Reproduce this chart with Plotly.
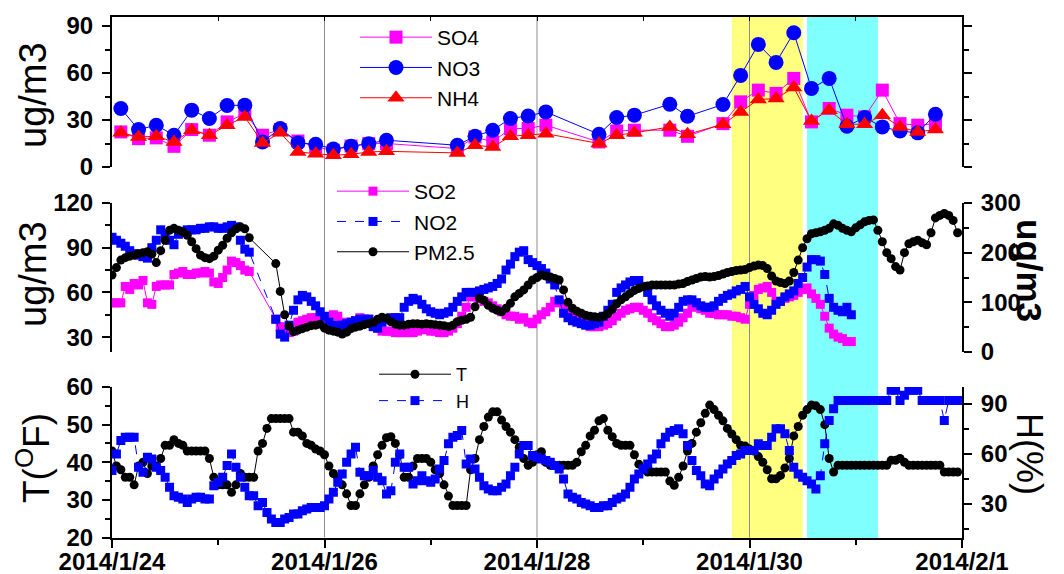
import plotly.graph_objects as go
import pandas as pd

START = pd.Timestamp("2014-01-24 00:00")

# ---------------- top panel: 4-hourly ions (hours after 2014/1/24 00:00) -------------
ion_hours = [2, 6, 10, 14, 18, 22, 26, 30, 34, 38, 42, 46, 50, 54, 58, 62,
             78, 82, 86, 90, 94, 98,
             110, 114, 118,
             126, 130,
             138, 142, 146, 150, 154, 158, 162, 166, 170, 174, 178, 182, 186]
SO4 = [22.4, 18.1, 18.6, 13.2, 23.9, 20.3, 28.8, 34.1, 20.3, 23.9, 16.6, 12.8, 10.7, 13.4, 14.9, 15.0,
       11.8, 19.2, 16.0, 24.6, 24.6, 26.7,
       16.0, 23.0, 23.5,
       23.5, 19.6,
       27.7, 41.6, 49.1, 47.0, 56.6, 28.8, 37.4, 33.1, 32.0, 49.1, 27.7, 26.7, 27.7]
NO3 = [37.4, 23.9, 26.7, 20.3, 36.3, 31.0, 39.3, 39.5, 16.0, 24.6, 15.4, 14.5, 11.5, 13.2, 14.9, 17.1,
       13.9, 19.6, 23.5, 31.0, 32.6, 35.2,
       20.9, 31.6, 33.1,
       40.1, 32.4,
       39.9, 58.5, 78.3, 66.8, 85.7, 50.2, 56.6, 26.0, 31.6, 25.6, 23.0, 21.8, 33.7]
NH4 = [21.8, 19.2, 19.6, 16.0, 23.5, 20.3, 26.7, 32.0, 15.4, 21.8, 9.6, 8.5, 7.5, 8.1, 9.6, 10.0,
       9.0, 13.9, 12.8, 19.6, 20.3, 21.3,
       15.0, 20.3, 21.8,
       25.6, 20.9,
       27.3, 35.2, 43.1, 43.7, 50.8, 29.4, 36.3, 27.3, 27.3, 33.1, 25.6, 22.4, 23.9]

# ---------------- middle panel: hourly gases and PM2.5 --------------------------------
N = None
SO2 = [53, 53, 53, 64, 62, 66, 65, 68, 53, 52, 64, 65,
       65, 65, 72, 73, 74, 72, 72, 73, 73, 74, 73, 67,
       66, 70, 75, 81, 80, 78, 75, 74, N, N, N, N,
       N, 42, 37, 33, 33, 34, 40, 41, 42, 43, 43, 43,
       42, 42, 45, 44, 40, 37, 40, 41, 43, 42, 42, 39,
       36, 34, 34, 34, 33, 33, 33, 33, 33, 34, 35, 35,
       34, 34, 33, 33, 34, 36, 39, 44, 50, 57, 57, 56,
       54, 53, 51, 49, 47, 45, 44, 44, 42, 43, 40, 39,
       42, 45, 47, 50, 54, 53, 52, 47, 43, 42, 40, 39,
       37, 37, 37, 38, 39, 41, 44, 46, 48, 49, 50, 50,
       48, 46, 43, 41, 39, 37, 37, 38, 40, 43, 46, 50,
       53, 49, 48, 46, 46, 45, 45, 45, 44, 44, 43, 42,
       52, 58, 62, 63, 64, 60, 54, 54, 56, 57, 58, 60,
       62, 63, 59, 56, 52, 44, 36, 32, 30, 29, 27, 27]
NO2 = [97, 95, 93, 91, 88, 86, 85, 84, 83, 90, 95, 102,
       98, 95, 92, 99, 101, 102, 102, 102, 103, 103, 104, 104,
       103, 103, 104, 105, 104, 95, 89, 87, N, N, N, N,
       N, 42, 32, 30, 38, 48, 55, 58, 57, 54, 51, 47,
       44, 40, 38, 37, 38, 39, 40, 41, 42, 42, 42, 37,
       36, 40, 42, 43, 43, 43, 50, 54, 56, 55, 52, 49,
       47, 46, 45, 46, 47, 50, 54, 57, 60, 60, 60, 61,
       62, 63, 64, 66, 69, 75, 79, 84, 87, 88, 82, 80,
       78, 76, 73, 69, 65, 55, 46, 43, 41, 40, 39, 38,
       38, 39, 40, 44, 48, 52, 60, 63, 65, 67, 68, 68,
       64, 60, 55, 51, 48, 46, 44, 46, 50, 54, 55, 55,
       53, 51, 50, 50, 51, 54, 56, 58, 59, 61, 62, 64,
       57, 52, 49, 46, 45, 48, 52, 54, 57, 59, 61, 66,
       70, 77, 82, 82, 81, 72, 56, 50, 48, 47, 50, 45]
PM25 = [155, 170, 185, 190, 193, 195, 198, 200, 202, 197, 180, 204,
        225, 245, 249, 245, 242, 235, 222, 208, 195, 190, 188, 193,
        205, 215, 229, 240, 248, 252, 248, 230, N, N, N, N,
        N, 178, 122, 75, 52, 41, 44, 47, 50, 53, 54, 56,
        48, 44, 42, 40, 36, 40, 47, 50, 52, 55, 57, 60,
        66, 70, 68, 61, 56, 54, 54, 56, 57, 57, 56, 57,
        56, 55, 54, 53, 51, 54, 61, 64, 66, 70, 91, 108,
        104, 94, 88, 84, 81, 88, 98, 111, 118, 125, 135, 145,
        150, 155, 153, 151, 148, 145, 125, 100, 88, 82, 78, 74,
        72, 71, 70, 72, 77, 86, 97, 105, 111, 118, 124, 128,
        131, 133, 135, 135, 135, 135, 135, 135, 137, 138, 142, 145,
        148, 151, 152, 151, 152, 154, 157, 160, 162, 164, 165, 166,
        170, 173, 175, 174, 168, 153, 143, 140, 138, 143, 160, 185,
        210, 228, 238, 240, 242, 245, 249, 258, 255, 249, 245, 242,
        250, 256, 262, 265, 266, 245, 222, 200, 188, 172, 165, 200,
        218, 222, 225, 220, 216, 240, 270, 275, 279, 275, 265, 240]

# ---------------- bottom panel: hourly temperature and humidity -----------------------
T = [43, 39, 38, 36, 36, 34, 39, 40, 37, 39, 39, 41,
     44.5, 44.5, 46, 45, 44.5, 43, 43, 43, 43, 43, 41, 36,
     34, 34, 34, 32, 34, 37, 36, 36, 36, 43, 45, 49,
     51.6, 51.6, 51.6, 51.6, 51.6, 48, 48, 47, 45, 44.5, 43.5, 43,
     42, 39, 37, 36, 34, 31.6, 28.5, 28.5, 31.6, 34, 36, 39,
     42, 44.5, 46.5, 46.8, 45, 42, 36, 36, 39, 41, 41, 41,
     40, 38, 37, 34, 31, 28.5, 28.5, 28.5, 28.5, 38, 41, 46,
     49.5, 52, 53.4, 53.4, 51.2, 49.5, 48, 46, 44, 41, 39.2, 40,
     42, 42.8, 40, 39.2, 39.2, 39.2, 39.2, 39.2, 39.2, 40, 42.8, 44.5,
     47, 48.5, 51, 51.6, 48.5, 46.8, 45, 44.5, 44.5, 44.5, 42, 39.5,
     38, 37.4, 37.4, 37.4, 37.4, 37.4, 35, 33.9, 36, 39, 43, 45,
     48, 50.5, 53, 55.2, 54, 52.5, 51, 49, 47.5, 46, 44.5, 44.3,
     43.5, 43, 41.5, 40, 38, 35.6, 35.6, 36.5, 38.5, 41, 47, 49.5,
     52.5, 54, 55.2, 55, 54, 50, 41, 37.4, 39.2, 39.2, 39.2, 39.2,
     39.2, 39.2, 39.2, 39.2, 39.2, 39.2, 39.2, 39.2, 40.5, 40.5, 41, 40,
     39.2, 39.2, 39.2, 39.2, 39.2, 39.2, 39.2, 39.2, 37.4, 37.4, 37.4, 37.4]
H = [50, 60, 68, 70, 70, 70, 52, 49, 58, 57, 52, 50,
     46, 40, 35, 34, 33, 31, 33, 34, 34, 33, 33, 41,
     43, 46, 53, 60, 52, 46, 40, 35, 35, 29, 31, 25,
     21, 19, 19, 21, 22, 24, 24, 26, 27, 28, 28, 28,
     29, 33, 37, 43, 48, 55, 60, 64, 49, 47, 47, 50,
     46, 44, 36, 38, 55, 60, 52, 52, 42, 44, 47, 44,
     43, 45, 51, 56, 66, 70, 71, 74, 54, 57, 51, 46,
     41, 39, 38, 38, 40, 42, 47, 52, 60, 65, 65, 59,
     58, 57, 56, 55, 53, 51, 45, 36, 34, 33, 31, 30,
     29, 28, 28, 29, 29, 31, 33, 34, 36, 40, 45, 48,
     51, 54, 57, 60, 66, 70, 73, 74, 75, 72, 65, 56,
     50, 47, 42, 41, 45, 48, 51, 54, 56, 59, 60, 62,
     62, 62, 66, 65, 65, 70, 75, 75, 72, 62, 52, 48,
     46, 44, 42, 39, 47, 66, 80, 87, 92, 92, 92, 92,
     92, 92, 92, 92, 92, 92, 92, 92, 98, 98, 92, 95,
     98, 98, 98, 92, 92, 92, 92, 92, 80, 92, 92, 92]

# event windows and reference lines
YELLOW = ("2014-01-29 20:00", "2014-01-30 12:00")
CYAN = ("2014-01-30 13:00", "2014-01-31 05:00")
VLINES = ["2014-01-26", "2014-01-28", "2014-01-30"]

ion_time = [START + pd.Timedelta(hours=h) for h in ion_hours]
gas_time = pd.date_range(START, periods=len(SO2), freq="h")
pm_time = pd.date_range(START, periods=len(PM25), freq="h")
met_time = pd.date_range(START, periods=len(T), freq="h")

FONT = "Liberation Sans, Arial, sans-serif"
W, Hh = 1064, 574

def px_x(p):
    return p / W

def px_y(p):
    return 1 - p / Hh

fig = go.Figure()

# top panel
fig.add_trace(go.Scatter(x=ion_time, y=SO4, name="SO4", mode="lines+markers", xaxis="x", yaxis="y",
                         line=dict(color="#FF00FF", width=1),
                         marker=dict(symbol="square", size=13, color="#FF00FF"), legend="legend"))
fig.add_trace(go.Scatter(x=ion_time, y=NO3, name="NO3", mode="lines+markers", xaxis="x", yaxis="y",
                         line=dict(color="#0000FF", width=1),
                         marker=dict(symbol="circle", size=15, color="#0000FF"), legend="legend"))
fig.add_trace(go.Scatter(x=ion_time, y=NH4, name="NH4", mode="lines+markers", xaxis="x", yaxis="y",
                         line=dict(color="#FF0000", width=1),
                         marker=dict(symbol="triangle-up", size=15, color="#FF0000"), legend="legend"))

# middle panel
fig.add_trace(go.Scatter(x=gas_time, y=SO2, name="SO2", mode="lines+markers", xaxis="x2", yaxis="y2",
                         connectgaps=True, line=dict(color="#FF00FF", width=1),
                         marker=dict(symbol="square", size=9, color="#FF00FF"), legend="legend2"))
fig.add_trace(go.Scatter(x=gas_time, y=NO2, name="NO2", mode="lines+markers", xaxis="x2", yaxis="y2",
                         connectgaps=True, line=dict(color="#0000FF", width=1, dash="dash"),
                         marker=dict(symbol="square", size=9, color="#0000FF"), legend="legend2"))
fig.add_trace(go.Scatter(x=pm_time, y=PM25, name="PM2.5", mode="lines+markers", xaxis="x2", yaxis="y3",
                         connectgaps=True, line=dict(color="#000000", width=1),
                         marker=dict(symbol="circle", size=9, color="#000000"), legend="legend2"))

# bottom panel
fig.add_trace(go.Scatter(x=met_time, y=T, name="T", mode="lines+markers", xaxis="x3", yaxis="y4",
                         line=dict(color="#000000", width=1),
                         marker=dict(symbol="circle", size=9, color="#000000"), legend="legend3"))
fig.add_trace(go.Scatter(x=met_time, y=H, name="H", mode="lines+markers", xaxis="x3", yaxis="y5",
                         line=dict(color="#0000FF", width=1, dash="dash"),
                         marker=dict(symbol="square", size=9, color="#0000FF"), legend="legend3"))

XDOM = [px_x(112), px_x(962)]
XR = ["2014-01-24 00:00", "2014-02-01 00:00"]
DAY = 86400000
tickfont = dict(family=FONT, size=24, color="black", weight="bold")

def yax(**kw):
    base = dict(showgrid=False, zeroline=False, showline=True, linecolor="black", linewidth=2,
                ticks="outside", ticklen=8, tickwidth=2, tickcolor="black", automargin=False,
                tickfont=tickfont, ticklabelstandoff=4)
    base.update(kw)
    return base

LEG = dict(xanchor="left", yanchor="top", bgcolor="rgba(0,0,0,0)", itemwidth=72, tracegroupgap=0)

fig.update_layout(
    width=W, height=Hh, autosize=False,
    margin=dict(l=0, r=0, t=0, b=0, autoexpand=False),
    paper_bgcolor="white", plot_bgcolor="rgba(0,0,0,0)",
    showlegend=True,
    xaxis=dict(domain=XDOM, range=XR, anchor="y", side="top", showline=True, linecolor="black",
               linewidth=2, ticks="inside", ticklen=4, tickwidth=1, tickcolor="black", automargin=False,
               dtick=DAY, tick0="2014-01-24", showticklabels=False, showgrid=False, zeroline=False),
    xaxis2=dict(domain=XDOM, range=XR, anchor="y2", matches="x", visible=False, automargin=False),
    xaxis3=dict(domain=XDOM, range=XR, anchor="y4", matches="x", showline=True, linecolor="black",
                linewidth=2, ticks="outside", ticklen=8, tickwidth=2, tickcolor="black", automargin=False,
                dtick=2 * DAY, tick0="2014-01-24", tickformat="%Y/%-m/%-d", ticklabelstandoff=-6,
                minor=dict(dtick=DAY, ticks="outside", ticklen=5, tickwidth=2, tickcolor="black"),
                tickfont=dict(family=FONT, size=24, color="black", weight="bold"),
                showgrid=False, zeroline=False),
    yaxis=yax(domain=[px_y(167), px_y(17)], anchor="x", range=[0, 95.8], dtick=30, tick0=0,
              mirror="ticks",
              minor=dict(dtick=15, ticks="outside", ticklen=5, tickwidth=2, tickcolor="black")),
    yaxis2=yax(domain=[px_y(352), px_y(203)], anchor="x2", range=[20, 120], dtick=30, tick0=0,
               minor=dict(dtick=15, ticks="outside", ticklen=5, tickwidth=2, tickcolor="black")),
    yaxis3=yax(domain=[px_y(352), px_y(203)], anchor="x2", overlaying="y2", side="right",
               range=[0, 300], dtick=100, tick0=0,
               minor=dict(dtick=50, ticks="outside", ticklen=5, tickwidth=2, tickcolor="black")),
    yaxis4=yax(domain=[px_y(537.5), px_y(387)], anchor="x3", range=[20, 60], dtick=10, tick0=0,
               minor=dict(dtick=5, ticks="outside", ticklen=5, tickwidth=2, tickcolor="black")),
    yaxis5=yax(domain=[px_y(537.5), px_y(387)], anchor="x3", overlaying="y4", side="right",
               range=[10, 100], dtick=30, tick0=0,
               minor=dict(dtick=15, ticks="outside", ticklen=5, tickwidth=2, tickcolor="black")),
    legend=dict(x=px_x(355), y=px_y(17), font=dict(family=FONT, size=21, color="black"), **LEG),
    legend2=dict(x=px_x(332), y=px_y(171), font=dict(family=FONT, size=21, color="black"), **LEG),
    legend3=dict(x=px_x(374), y=px_y(356), font=dict(family=FONT, size=18, color="black"), **LEG),
)

shapes = []
for (a, b), col in [(YELLOW, "#FFFF80"), (CYAN, "#80FFFF")]:
    shapes.append(dict(type="rect", xref="x", yref="paper", x0=a, x1=b, y0=px_y(540), y1=px_y(17),
                       fillcolor=col, line=dict(width=0), layer="below"))
for d in VLINES:
    shapes.append(dict(type="line", xref="x", yref="paper", x0=d, x1=d, y0=px_y(537.5), y1=px_y(17),
                       line=dict(color="#8c8c8c", width=1), layer="below"))
fig.update_layout(shapes=shapes)

ann = [
    dict(text="ug/m3", x=px_x(33), y=px_y(95), textangle=-90, font=dict(family=FONT, size=38)),
    dict(text="ug/m3", x=px_x(33), y=px_y(274), textangle=-90, font=dict(family=FONT, size=38)),
    dict(text="T(<sup>O</sup>F)", x=px_x(33), y=px_y(458), textangle=-90, font=dict(family=FONT, size=37)),
    dict(text="ug/m3", x=px_x(1030), y=px_y(270), textangle=90,
         font=dict(family=FONT, size=35, weight="bold")),
    dict(text="H(%)", x=px_x(1030), y=px_y(454), textangle=90, font=dict(family=FONT, size=36)),
]
for a in ann:
    a.update(xref="paper", yref="paper", showarrow=False, xanchor="center", yanchor="middle")
    a["font"]["color"] = "black"
fig.update_layout(annotations=ann)

fig.write_html("out.html")
